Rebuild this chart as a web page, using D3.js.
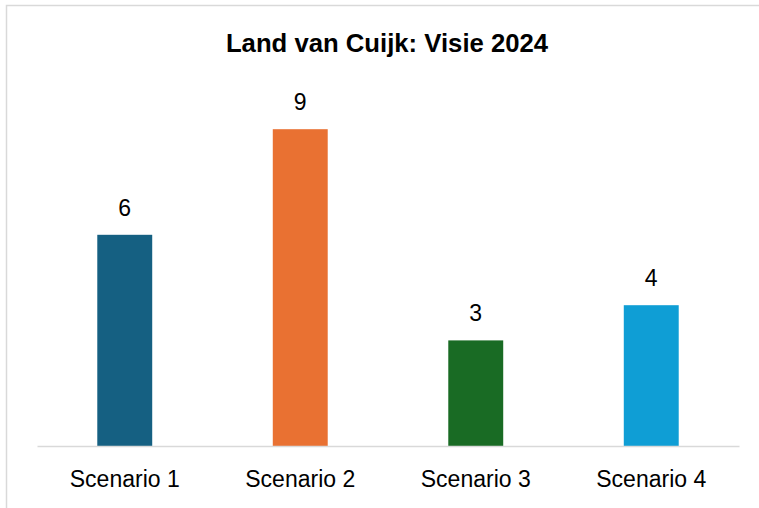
<!DOCTYPE html>
<html>
<head>
<meta charset="utf-8">
<script src="https://cdn.jsdelivr.net/npm/d3@7"></script>
<style>
  body { margin: 0; background: #fff; }
  text { font-family: "Liberation Sans", Arial, sans-serif; }
</style>
</head>
<body>
<div id="chart"></div>
<script>
var categories = ["Scenario 1", "Scenario 2", "Scenario 3", "Scenario 4"];
var values = [6, 9, 3, 4];
var barColors = ["#156082", "#E97132", "#196B24", "#0F9ED5"];
var title = "Land van Cuijk: Visie 2024";

var width = 759;
var height = 508;

var svg = d3.select("#chart")
    .append("svg")
    .attr("width", width)
    .attr("height", height);

// chart frame, runs off the right and bottom edge like the screenshot
svg.append("rect")
    .attr("x", 6.5)
    .attr("y", 5.5)
    .attr("width", 800)
    .attr("height", 600)
    .style("fill", "#fff")
    .style("stroke", "#d9d9d9")
    .style("stroke-width", 1.5);

svg.append("text")
    .attr("x", 387)
    .attr("y", 52)
    .attr("text-anchor", "middle")
    .style("font-size", "25.7px")
    .style("font-weight", "bold")
    .style("fill", "#000")
    .text(title);

var x = d3.scaleBand()
    .domain(categories)
    .range([37, 739])
    .paddingInner(0.687)
    .paddingOuter(0.3435);

var y = d3.scaleLinear()
    .domain([0, 10])
    .range([446, 94]);

svg.selectAll(".bar")
    .data(values)
    .enter().append("rect")
    .attr("class", "bar")
    .attr("x", function(d, i) { return x(categories[i]); })
    .attr("y", function(d) { return y(d); })
    .attr("width", x.bandwidth())
    .attr("height", function(d) { return y(0) - y(d); })
    .style("fill", function(d, i) { return barColors[i]; });

svg.selectAll(".label")
    .data(values)
    .enter().append("text")
    .attr("class", "label")
    .attr("x", function(d, i) { return x(categories[i]) + x.bandwidth() / 2; })
    .attr("y", function(d) { return y(d) - 19; })
    .attr("text-anchor", "middle")
    .style("font-size", "23px")
    .style("fill", "#000")
    .text(function(d) { return d; });

// x axis: only the baseline and the category names
var xAxis = svg.append("g")
    .attr("transform", "translate(0," + y(0) + ")")
    .call(d3.axisBottom(x).tickSize(0).tickPadding(25));

xAxis.select(".domain")
    .attr("stroke", "#d9d9d9")
    .attr("stroke-width", 1.5);

xAxis.selectAll("text")
    .style("font-size", "23px")
    .style("font-family", "'Liberation Sans', Arial, sans-serif")
    .style("fill", "#000");
</script>
</body>
</html>
